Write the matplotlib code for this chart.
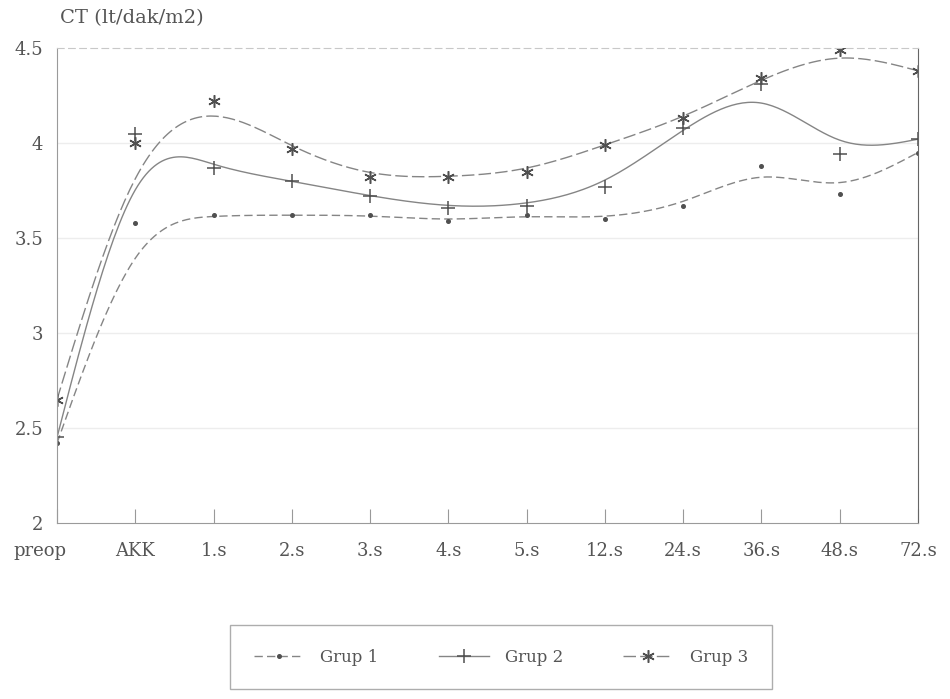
import numpy as np
import matplotlib
matplotlib.use("Agg")
import matplotlib.pyplot as plt
from matplotlib.lines import Line2D
from matplotlib.transforms import ScaledTranslation

categories = ["preop", "AKK", "1.s", "2.s", "3.s", "4.s", "5.s", "12.s", "24.s", "36.s", "48.s", "72.s"]
grup1 = [2.42, 3.58, 3.62, 3.62, 3.62, 3.59, 3.62, 3.60, 3.67, 3.88, 3.73, 3.95]
grup2 = [2.45, 4.05, 3.87, 3.80, 3.72, 3.66, 3.67, 3.77, 4.08, 4.31, 3.94, 4.02]
grup3 = [2.65, 4.00, 4.22, 3.97, 3.82, 3.82, 3.85, 3.99, 4.13, 4.34, 4.49, 4.38]
series_names = ["Grup 1", "Grup 2", "Grup 3"]
yticks = [2, 2.5, 3, 3.5, 4, 4.5]
ytick_labels = ["2", "2.5", "3", "3.5", "4", "4.5"]
ylabel = "CT (lt/dak/m2)"


def bspline(vals, steps=30):
    p = np.asarray(vals, dtype=float)
    ext = np.concatenate([[2 * p[0] - p[1]], p, [2 * p[-1] - p[-2]]])
    xs, ys = [], []
    t = np.linspace(0, 1, steps)
    for i in range(len(p) - 1):
        a, b, c, d = ext[i], ext[i + 1], ext[i + 2], ext[i + 3]
        y = ((1 - t) ** 3 * a + (3 * t ** 3 - 6 * t ** 2 + 4) * b
             + (-3 * t ** 3 + 3 * t ** 2 + 3 * t + 1) * c + t ** 3 * d) / 6
        xs.append(i + t)
        ys.append(y)
    return np.concatenate(xs), np.concatenate(ys)


plt.rcParams['font.family'] = ['DejaVu Serif', 'Liberation Serif']
fig = plt.figure(figsize=(9.5, 6.99), dpi=100)
ax = fig.add_axes([57 / 950, 1 - 523 / 699, (918 - 57) / 950, (523 - 48) / 699])

lc = "#858585"
tc = "#555555"
x = np.arange(len(categories))

styles = [
    dict(ls=(0, (6, 3)), marker='.', ms=5),
    dict(ls='-', marker='+', ms=10),
    dict(ls=(0, (9, 3)), marker=(6, 2, 0), ms=9),
]
handles = []
for vals, st, name in zip([grup1, grup2, grup3], styles, series_names):
    bx, by = bspline(vals)
    ax.plot(bx, by, color=lc, lw=1.0, ls=st['ls'])
    ax.plot(x, vals, ls='none', marker=st['marker'], ms=st['ms'], color="#505050", mew=1.1)
    handles.append(Line2D([], [], color=lc, lw=1.0, ls=st['ls'], marker=st['marker'],
                          ms=st['ms'], mec="#505050", mfc="#505050", mew=1.1))

ax.set_xlim(0, len(categories) - 1)
ax.set_ylim(2, 4.5)
ax.set_xticks(x)
ax.set_xticklabels(categories)
ax.set_yticks(yticks)
ax.set_yticklabels(ytick_labels)
ax.tick_params(axis='x', direction='in', length=10, color="#999999", labelsize=13, labelcolor=tc, pad=14)
ax.tick_params(axis='y', length=0, labelsize=13, labelcolor=tc, pad=10)
first = ax.get_xticklabels()[0]
first.set_transform(first.get_transform() + ScaledTranslation(-17 / 100, 0, fig.dpi_scale_trans))
for yv in yticks[1:-1]:
    ax.axhline(yv, color="#ededed", lw=1.0, zorder=0)
for s in ['left', 'bottom']:
    ax.spines[s].set_color("#9a9a9a")
ax.spines['right'].set_color("#666666")
ax.spines['top'].set_color("#c8c8c8")
ax.spines['top'].set_linestyle((0, (6, 4)))

fig.text(60 / 950, 1 - 18 / 699, ylabel, fontsize=14, color=tc, va='center', ha='left')

leg = fig.legend(handles=handles, labels=series_names, loc='center',
                 bbox_to_anchor=(501 / 950, 1 - 657 / 699), ncol=3, fontsize=12,
                 frameon=True, fancybox=False, edgecolor="#999999", handlelength=3.0,
                 columnspacing=3.6, borderpad=1.4, handletextpad=1.0, borderaxespad=0)
for t in leg.get_texts():
    t.set_color(tc)

fig.savefig("out.png", dpi=100)
